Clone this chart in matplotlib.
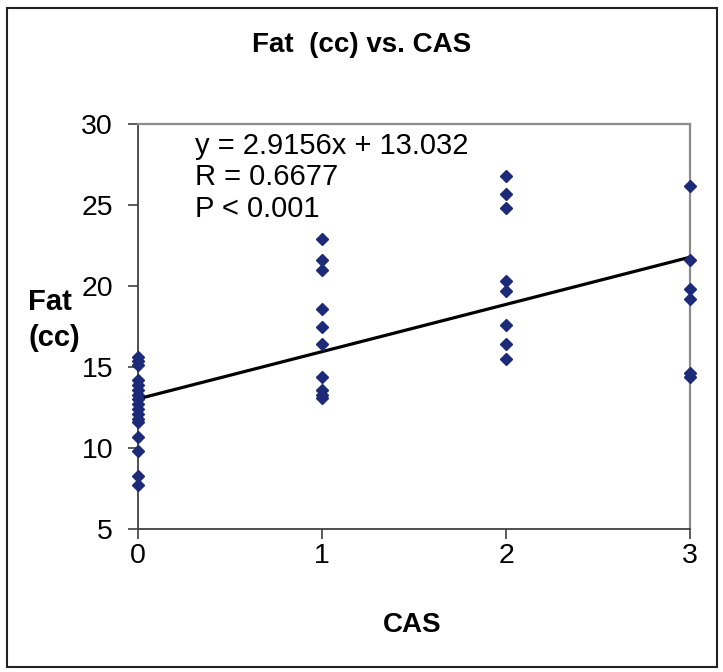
import matplotlib.pyplot as plt
from matplotlib.patches import Rectangle

plt.rcParams['font.family'] = ['Liberation Sans', 'DejaVu Sans']

# data
cas_0 = [15.6, 15.4, 15.1, 14.2, 13.9, 13.6, 13.3, 13.0, 12.7, 12.4, 12.1, 11.8, 11.6, 10.7, 9.8, 8.3, 7.7]
cas_1 = [22.9, 21.6, 21.0, 18.6, 17.5, 16.4, 14.4, 13.6, 13.3, 13.1]
cas_2 = [26.8, 25.7, 24.8, 20.3, 19.7, 17.6, 16.4, 15.5]
cas_3 = [26.2, 21.6, 19.8, 19.2, 14.6, 14.4]
slope, intercept = 2.9156, 13.032

x = [0] * len(cas_0) + [1] * len(cas_1) + [2] * len(cas_2) + [3] * len(cas_3)
y = cas_0 + cas_1 + cas_2 + cas_3

fig = plt.figure(figsize=(7.23, 6.72), dpi=100)
ax = fig.add_axes([138 / 723, 1 - 529 / 672, 552 / 723, 405 / 672])

ax.plot(x, y, linestyle='none', marker='D', markersize=6, color='#1c2a78', clip_on=False, zorder=3)
ax.plot([0, 3], [intercept, slope * 3 + intercept], color='black', linewidth=2.3, zorder=2)

ax.set_xlim(0, 3)
ax.set_ylim(5, 30)
ax.set_xticks([0, 1, 2, 3])
ax.set_yticks([5, 10, 15, 20, 25, 30])
ax.tick_params(labelsize=20.5, length=7, width=1.2, color='#404040', direction='out')
ax.tick_params(axis='y', pad=11)
ax.tick_params(axis='x', pad=3)

for s in ['left', 'bottom']:
    ax.spines[s].set_color('#404040')
    ax.spines[s].set_linewidth(1.3)
for s in ['top', 'right']:
    ax.spines[s].set_color('#8c8c8c')
    ax.spines[s].set_linewidth(1.6)

ax.text(0.31, 29.5, 'y = 2.9156x + 13.032\nR = 0.6677\nP < 0.001', fontsize=21,
        va='top', ha='left', linespacing=1.15)

fig.text(0.5, 1 - 45 / 672, 'Fat  (cc) vs. CAS', ha='center', va='center', fontsize=20, fontweight='bold')
fig.text(28 / 723, 1 - 320 / 672, 'Fat\n(cc)', ha='left', va='center', fontsize=21, fontweight='bold', linespacing=1.38)
fig.text(412 / 723, 1 - 625 / 672, 'CAS', ha='center', va='center', fontsize=20, fontweight='bold')

fig.patches.append(Rectangle((7 / 723, 1 - 667 / 672), 710 / 723, 659 / 672, transform=fig.transFigure,
                             fill=False, edgecolor='#222222', linewidth=1.5))

fig.savefig('out.png', dpi=100)
